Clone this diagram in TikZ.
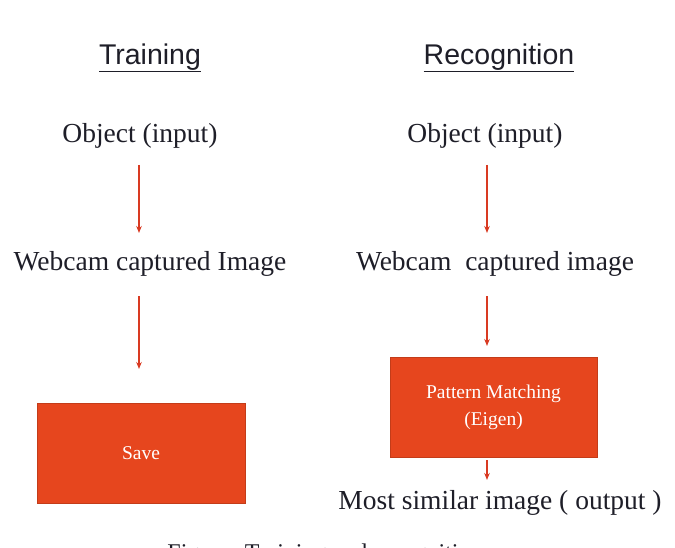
\documentclass[tikz,border=0pt]{standalone}
\usepackage{fontspec}
\setmainfont{Liberation Serif}
\newfontfamily\headfont{Liberation Sans}
\usetikzlibrary{arrows.meta}
\definecolor{boxred}{HTML}{E6461E}
\definecolor{arrred}{HTML}{D93A22}
\definecolor{txt}{HTML}{1E1E28}
\tikzset{
  head/.style={font=\headfont\fontsize{28.5}{30}\selectfont, text=txt, inner sep=0pt},
  lbl/.style={font=\fontsize{27.5}{30}\selectfont, text=txt, inner sep=0pt},
  redbox/.style={fill=boxred, draw=boxred!85!black, line width=0.6pt, text=white, align=center, font=\fontsize{19.5}{27}\selectfont, inner sep=0pt},
  flow/.style={draw=arrred, line width=1.3pt, -{Stealth[length=7pt,width=5.5pt]}},
}
\begin{document}
\begin{tikzpicture}[x=1pt,y=-1pt]
\useasboundingbox (0,0) rectangle (675,548);
\fill[white] (0,0) rectangle (675,548);
\begin{scope}
\clip (0,0) rectangle (675,548);
% headings
\node[head] (th) at (150,58) {\underline{Training}};
\node[head] (rh) at (499,58) {\underline{Recognition}};
% left column
\node[lbl] (lo) at (140,136) {Object (input)};
\node[lbl] (lw) at (150,264) {Webcam captured Image};
\node[redbox, minimum width=208pt, minimum height=100pt] (ls) at (141,453) {Save};
% right column
\node[lbl] (ro) at (485,136) {Object (input)};
\node[lbl] (rw) at (495,264) {Webcam\ \ captured image};
\node[redbox, minimum width=207pt, minimum height=100pt] (rp) at (493.5,407) {Pattern Matching\\(Eigen)};
\node[lbl] (rm) at (500,503) {Most similar image ( output )};
% arrows
\coordinate (la1) at (139,165); \coordinate (la2) at (139,233);
\coordinate (la3) at (139,296); \coordinate (la4) at (139,369);
\coordinate (ra1) at (487,165); \coordinate (ra2) at (487,233);
\coordinate (ra3) at (487,296); \coordinate (ra4) at (487,346);
\coordinate (ra5) at (487,460); \coordinate (ra6) at (487,480);
\draw[flow] (la1) -- (la2);
\draw[flow] (la3) -- (la4);
\draw[flow] (ra1) -- (ra2);
\draw[flow] (ra3) -- (ra4);
\draw[flow] (ra5) -- (ra6);
% cut-off caption, as in the reference
\node[font=\fontsize{24}{26}\selectfont, text=txt, anchor=base, inner sep=0pt] (cap) at (325,560) {Figure: Training and recognition};
\end{scope}
\end{tikzpicture}
\end{document}
